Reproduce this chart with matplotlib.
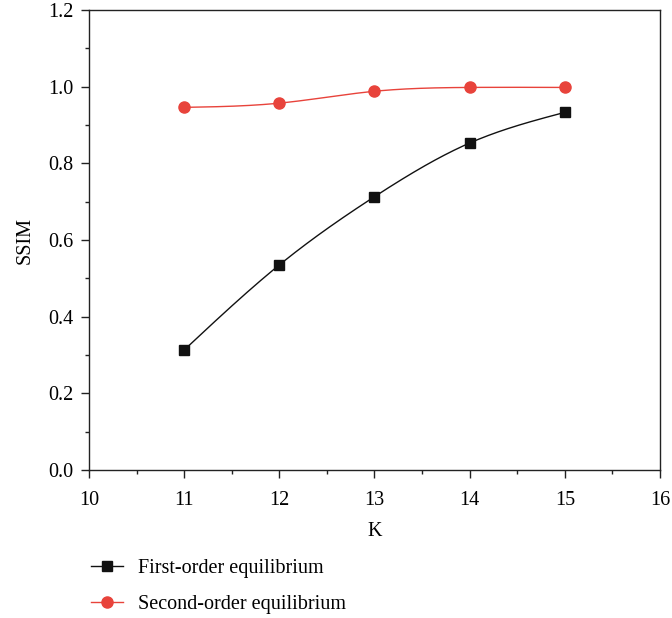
import numpy as np
import matplotlib
matplotlib.use("Agg")
import matplotlib.pyplot as plt
from matplotlib.lines import Line2D

K = [11, 12, 13, 14, 15]
first_order = [0.313, 0.535, 0.713, 0.853, 0.933]
second_order = [0.946, 0.957, 0.988, 0.998, 0.998]
x_ticks = [10, 11, 12, 13, 14, 15, 16]
y_ticks = [0.0, 0.2, 0.4, 0.6, 0.8, 1.0, 1.2]


def natural_spline(x, y, n=200):
    x = np.asarray(x, float); y = np.asarray(y, float)
    m = len(x)
    h = np.diff(x)
    A = np.zeros((m, m)); b = np.zeros(m)
    A[0, 0] = A[-1, -1] = 1
    for i in range(1, m - 1):
        A[i, i - 1] = h[i - 1]; A[i, i] = 2 * (h[i - 1] + h[i]); A[i, i + 1] = h[i]
        b[i] = 3 * ((y[i + 1] - y[i]) / h[i] - (y[i] - y[i - 1]) / h[i - 1])
    c = np.linalg.solve(A, b)
    xs = np.linspace(x[0], x[-1], n)
    ys = np.empty_like(xs)
    for k, xv in enumerate(xs):
        i = min(np.searchsorted(x, xv, side="right") - 1, m - 2)
        bi = (y[i + 1] - y[i]) / h[i] - h[i] * (2 * c[i] + c[i + 1]) / 3
        di = (c[i + 1] - c[i]) / (3 * h[i])
        t = xv - x[i]
        ys[k] = y[i] + bi * t + c[i] * t ** 2 + di * t ** 3
    return xs, ys


plt.rcParams['font.family'] = ['Liberation Serif', 'DejaVu Serif']
FS = 14.5
plt.rcParams['font.size'] = FS

fig = plt.figure(figsize=(6.72, 6.18), dpi=100)
ax = fig.add_axes([89 / 672, 1 - 470 / 618, (660 - 89) / 672, (470 - 10) / 618])

black = '#111111'
red = '#E8433B'

xs, ys = natural_spline(K, first_order)
ax.plot(xs, ys, color=black, lw=1.0)
ax.plot(K, first_order, ls='none', marker='s', ms=7, color=black)
xs, ys = natural_spline(K, second_order)
ax.plot(xs, ys, color=red, lw=1.0)
ax.plot(K, second_order, ls='none', marker='o', ms=8, color=red)

ax.set_xlim(10, 16)
ax.set_ylim(0, 1.2)
ax.set_xticks(x_ticks)
ax.set_yticks(y_ticks)
ax.set_xticklabels([str(v) for v in x_ticks])
ax.set_yticklabels([f"{v:.1f}" for v in y_ticks])
ax.set_xticks(np.arange(10.5, 16, 1.0), minor=True)
ax.set_yticks(np.arange(0.1, 1.2, 0.2), minor=True)
ax.tick_params(which='major', direction='out', length=6, width=1, color='#222', labelsize=FS)
ax.tick_params(axis='x', which='major', pad=9)
ax.tick_params(axis='y', which='major', pad=5)
ax.tick_params(which='minor', direction='out', length=3, width=1, color='#222')
for s in ax.spines.values():
    s.set_linewidth(1.0)
    s.set_color('#222')
ax.set_xlabel('K', labelpad=9)
ax.set_ylabel('SSIM', labelpad=10)

handles = [Line2D([], [], color=black, lw=1.0, marker='s', ms=7),
           Line2D([], [], color=red, lw=1.0, marker='o', ms=8)]
fig.legend(handles, ['First-order equilibrium', 'Second-order equilibrium'],
           loc='upper left', bbox_to_anchor=(73 / 672, 1 - 541 / 618), frameon=False,
           handlelength=1.6, handletextpad=0.75, labelspacing=0.85, fontsize=FS)

fig.savefig('out.png', dpi=100)
